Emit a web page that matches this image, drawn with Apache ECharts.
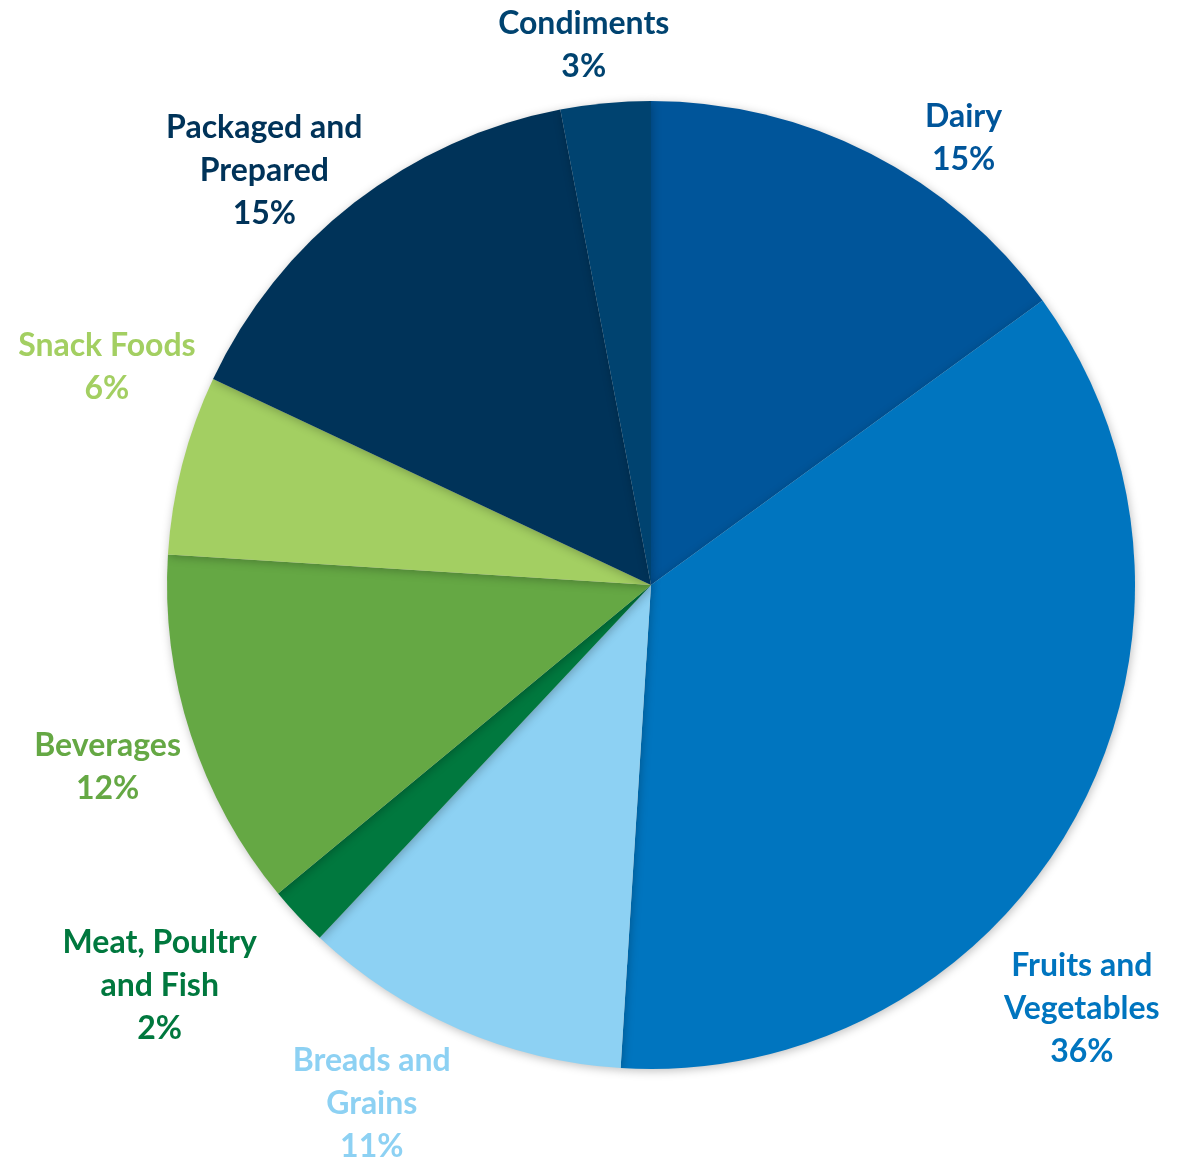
<!DOCTYPE html>
<html>
<head>
<meta charset="utf-8">
<title>Food categories</title>
<script src="https://cdn.jsdelivr.net/npm/echarts@6/dist/echarts.min.js"></script>
<style>
  html, body { margin: 0; padding: 0; background: #ffffff; }
  #chart { width: 1179px; height: 1162px; }
</style>
</head>
<body>
<div id="chart"></div>
<script>
// Share of each food category (percent)
const categories = [
  'Dairy',
  'Fruits and\nVegetables',
  'Breads and\nGrains',
  'Meat, Poultry\nand Fish',
  'Beverages',
  'Snack Foods',
  'Packaged and\nPrepared',
  'Condiments'
];
const shares = [15, 36, 11, 2, 12, 6, 15, 3];
const sliceColors = ['#00559A', '#0075BF', '#8DD1F3', '#00783E', '#65A844', '#A3CF62', '#003359', '#004370'];

// Label centres, as [angle clockwise from 12 o'clock in degrees, distance from pie centre in px]
const labelPolar = [[35, 545], [134.5, 604], [208.3, 589], [230.8, 634], [251.5, 573], [291.8, 586], [317, 567], [352.9, 544]];

const cx = 651, cy = 585, radius = 484;

const chart = echarts.init(document.getElementById('chart'), null, { renderer: 'canvas' });

chart.setOption({
  animation: false,
  backgroundColor: '#ffffff',
  series: [{
    type: 'pie',
    center: [cx, cy],
    radius: radius,
    startAngle: 90,
    clockwise: true,
    avoidLabelOverlap: false,
    data: categories.map((name, i) => ({
      name: name,
      value: shares[i],
      itemStyle: { color: sliceColors[i] },
      label: { color: sliceColors[i] }
    })),
    itemStyle: {
      borderWidth: 0,
      shadowBlur: 10,
      shadowColor: 'rgba(0,0,0,0.25)',
      shadowOffsetX: 1,
      shadowOffsetY: 2
    },
    label: {
      show: true,
      position: 'outside',
      formatter: p => p.name + '\n' + Math.round(p.percent) + '%',
      fontFamily: 'Lato, "Open Sans", sans-serif',
      fontWeight: 'bold',
      fontSize: 32,
      lineHeight: 43,
      align: 'center'
    },
    labelLine: { show: false },
    labelLayout: function (params) {
      const lp = labelPolar[params.dataIndex];
      const a = lp[0] * Math.PI / 180;
      return {
        x: cx + lp[1] * Math.sin(a),
        y: cy - lp[1] * Math.cos(a),
        align: 'center',
        verticalAlign: 'middle'
      };
    },
    emphasis: { disabled: true }
  }]
});
</script>
</body>
</html>
